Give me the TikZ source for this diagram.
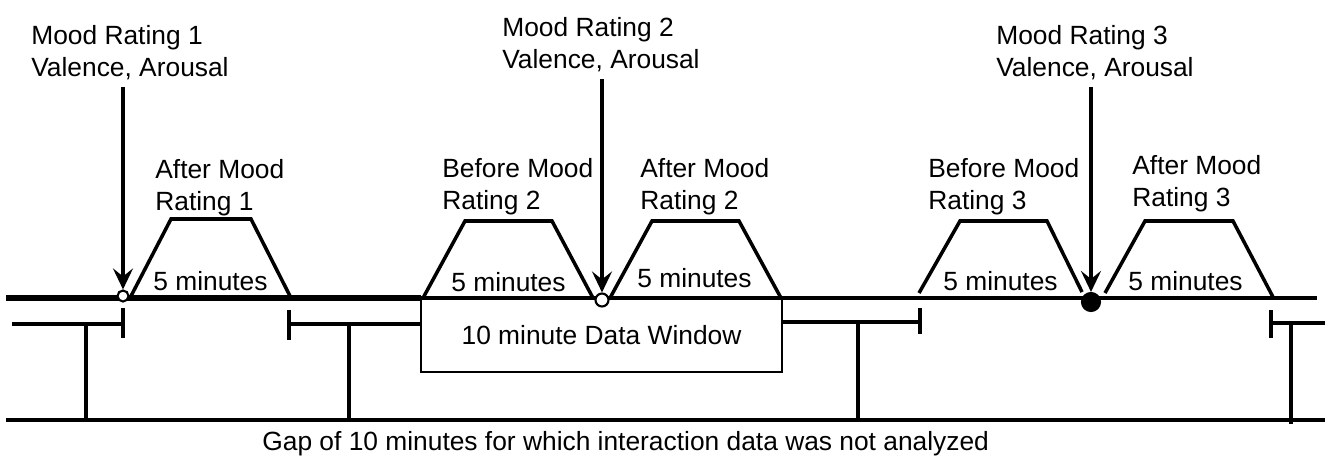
\documentclass[tikz,border=0pt]{standalone}
\usepackage{fontspec}
\setmainfont{Liberation Sans}
\usetikzlibrary{arrows.meta}

\begin{document}
\begin{tikzpicture}[
    x=0.02cm, y=-0.02cm,
    lbl/.style={inner sep=0pt, align=left, anchor=north west, font=\fontsize{15}{18.2}\selectfont},
    arr/.style={-{Stealth[length=0.42cm, width=0.4cm, inset=0.16cm]}, line width=2.4pt, shorten <=0.14cm},
    trap/.style={line width=2pt, line join=miter},
    bar/.style={line width=2.2pt},
    tick/.style={line width=2.8pt},
    dot/.style={circle, draw, line width=1.2pt, inner sep=0pt}
]
\useasboundingbox (0,0) rectangle (1325,457);

% mood ratings
\node[lbl] (mr1) at (31,25) {Mood Rating 1\\Valence, Arousal};
\node[lbl] (mr2) at (502,17) {Mood Rating 2\\Valence, Arousal};
\node[lbl] (mr3) at (996,25) {Mood Rating 3\\Valence, Arousal};

% before / after windows
\node[lbl] (after1) at (155,159) {After Mood\\Rating 1};
\node[lbl] (before2) at (442,158) {Before Mood\\Rating 2};
\node[lbl] (after2) at (640,158) {After Mood\\Rating 2};
\node[lbl] (before3) at (928,158) {Before Mood\\Rating 3};
\node[lbl] (after3) at (1132,155) {After Mood\\Rating 3};

% timelines
\draw[line width=3.6pt] (6,298) -- (421,298);
\draw[line width=2.6pt] (421,298) -- (1317,298);
\draw[line width=2.8pt] (6,420) -- (1325,420);

\node[draw, line width=1.6pt, minimum width=7.22cm, minimum height=1.48cm, inner sep=0pt,
      font=\fontsize{15}{18.2}\selectfont] (win) at (601.5,335) {10 minute Data Window\hspace{0.3cm}};

% 5 minute windows
\draw[trap] (130,298) -- (171,219) -- (251,219) -- (291,298);
\draw[trap] (423,298) -- (465,221) -- (552,221) -- (593,298);
\draw[trap] (610,298) -- (652,221) -- (739,221) -- (781,298);
\draw[trap] (919,293) -- (960,221) -- (1047,221) -- (1082,292);
\draw[trap] (1105,293) -- (1145,221) -- (1233,221) -- (1273,297);
\node[lbl] (w1) at (153,271) {5 minutes};
\node[lbl] (w2) at (451,272) {5 minutes};
\node[lbl] (w3) at (637,268) {5 minutes};
\node[lbl] (w4) at (943,271) {5 minutes};
\node[lbl] (w5) at (1128,271) {5 minutes};

% gaps
\coordinate (g1) at (123,324);
\coordinate (g2) at (289,324);
\coordinate (g3) at (920,322);
\coordinate (g4) at (1271,323);
\draw[bar] (12,324) -- (g1);
\draw[tick] (123,308) -- (123,338);
\draw[bar] (86,324) -- (86,420);
\draw[tick] (289,310) -- (289,340);
\draw[bar] (g2) -- (g2 -| win.west);
\draw[bar] (349,324) -- (349,420);
\draw[bar] (g3 -| win.east) -- (g3);
\draw[tick] (920,308) -- (920,334);
\draw[bar] (858,322) -- (858,420);
\draw[tick] (1271,310) -- (1271,338);
\draw[bar] (g4) -- (1325,323);
\draw[bar] (1291,323) -- (1291,424);
\node[lbl] (gap) at (262,431) {Gap of 10 minutes for which interaction data was not analyzed};

% rating points
\node[dot, fill=white, minimum size=0.22cm] (d1) at (123,296) {};
\node[dot, fill=white, minimum size=0.26cm] (d2) at (602,300) {};
\node[dot, fill=black, minimum size=0.36cm] (d3) at (1091,302) {};
\draw[arr] (mr1.south -| d1) -- (d1.north);
\draw[arr] (mr2.south -| d2) -- (d2.north);
\draw[arr] (mr3.south -| d3) -- (d3.north);
\end{tikzpicture}
\end{document}
